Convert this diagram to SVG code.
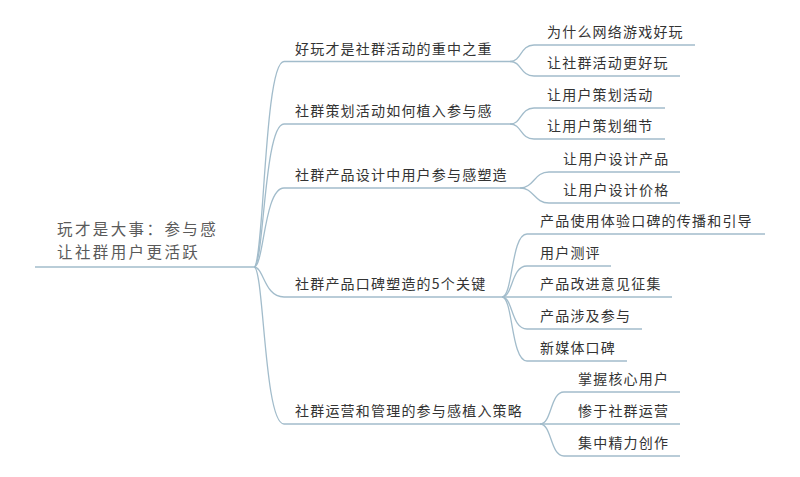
<svg xmlns="http://www.w3.org/2000/svg" width="800" height="477" viewBox="0 0 800 477">
<style>
.ln{fill:none;stroke:#a2bccb;stroke-width:1.3}
.t1{font-family:"Noto Sans CJK SC","Noto Sans",sans-serif;font-size:14px;letter-spacing:1.2px;fill:#333}
.t0{font-family:"Noto Sans CJK SC","Noto Sans",sans-serif;font-size:15.5px;letter-spacing:2.4px;fill:#5a5a5a}
</style>
<rect width="800" height="477" fill="#fff"/>
<g id="connectors" class="ln">
<path d="M35 267H254"/>
<path d="M254 267C264 267 264 61.5 284 61.5H510"/>
<path d="M254 267C264 267 264 124 284 124H510"/>
<path d="M254 267C264 267 264 188 284 188H520"/>
<path d="M254 267C264 267 264 297 284 297H502"/>
<path d="M254 267C264 267 264 424 284 424H540"/>
<path d="M510 61.5C522 61.5 520 45 534 45H695"/>
<path d="M510 61.5C522 61.5 520 76 534 76H680"/>
<path d="M510 124C522 124 520 108 534 108H665"/>
<path d="M510 124C522 124 520 139 534 139H665"/>
<path d="M520 188C534 188 534 172 549 172H680"/>
<path d="M520 188C534 188 534 203 549 203H680"/>
<path d="M502 297C513 297 511 234 527 234H765"/>
<path d="M502 297C513 297 511 266 527 266H611"/>
<path d="M502 297H672"/>
<path d="M502 297C513 297 511 329 527 329H642"/>
<path d="M502 297C513 297 511 361 527 361H627"/>
<path d="M540 424C552 424 550 392 564 392H680"/>
<path d="M540 424H680"/>
<path d="M540 424C552 424 550 456 564 456H680"/>
</g>
<g id="root"><text class="t0" x="57" y="235">玩才是大事：参与感</text><text class="t0" x="57" y="258">让社群用户更活跃</text></g>
<g id="n1"><text class="t1" x="295" y="54">好玩才是社群活动的重中之重</text></g>
<g id="n1a"><text class="t1" x="547" y="37">为什么网络游戏好玩</text></g>
<g id="n1b"><text class="t1" x="547" y="68">让社群活动更好玩</text></g>
<g id="n2"><text class="t1" x="295" y="116">社群策划活动如何植入参与感</text></g>
<g id="n2a"><text class="t1" x="547" y="100">让用户策划活动</text></g>
<g id="n2b"><text class="t1" x="547" y="131">让用户策划细节</text></g>
<g id="n3"><text class="t1" x="295" y="180">社群产品设计中用户参与感塑造</text></g>
<g id="n3a"><text class="t1" x="563" y="164">让用户设计产品</text></g>
<g id="n3b"><text class="t1" x="563" y="195">让用户设计价格</text></g>
<g id="n4"><text class="t1" x="295" y="289">社群产品口碑塑造的5个关键</text></g>
<g id="n4a"><text class="t1" x="540" y="226">产品使用体验口碑的传播和引导</text></g>
<g id="n4b"><text class="t1" x="540" y="258">用户测评</text></g>
<g id="n4c"><text class="t1" x="540" y="289">产品改进意见征集</text></g>
<g id="n4d"><text class="t1" x="540" y="321">产品涉及参与</text></g>
<g id="n4e"><text class="t1" x="540" y="353">新媒体口碑</text></g>
<g id="n5"><text class="t1" x="295" y="416">社群运营和管理的参与感植入策略</text></g>
<g id="n5a"><text class="t1" x="578" y="384">掌握核心用户</text></g>
<g id="n5b"><text class="t1" x="578" y="416">惨于社群运营</text></g>
<g id="n5c"><text class="t1" x="578" y="448">集中精力创作</text></g>
</svg>
